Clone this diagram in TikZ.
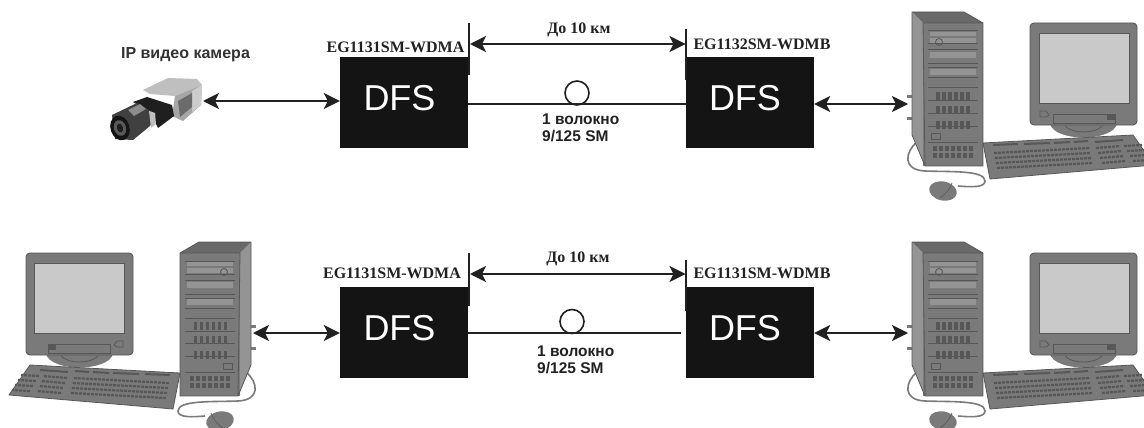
\documentclass[tikz,border=0pt]{standalone}
\usepackage{fontspec}
\setmainfont{Liberation Serif}
\setsansfont{Liberation Sans}
\usetikzlibrary{arrows.meta}
\definecolor{pcbody}{gray}{0.48}
\definecolor{pcdark}{gray}{0.34}
\definecolor{pcside}{gray}{0.58}
\definecolor{pcscreen}{gray}{0.79}
\definecolor{inkblack}{gray}{0.13}
\tikzset{
  dfsbox/.style={fill=black!92,minimum width=128pt,minimum height=91.5pt,inner sep=0pt},
  dfstext/.style={text=white,inner sep=0pt,font=\sffamily\fontsize{36}{36}\selectfont},
  modellabel/.style={font=\bfseries\fontsize{16}{17}\selectfont,text=inkblack,inner sep=0pt},
  distlabel/.style={font=\bfseries\fontsize{16}{17}\selectfont,text=inkblack,inner sep=0pt},
  fibrelabel/.style={font=\sffamily\bfseries\fontsize{15.5}{17.5}\selectfont,text=inkblack,inner sep=0pt,align=left,anchor=west},
  biarrow/.style={draw=inkblack,line width=1.8pt,{Stealth[length=16pt,width=16pt,inset=4pt]}-{Stealth[length=16pt,width=16pt,inset=4pt]}},
  fibre/.style={draw=inkblack,line width=1.7pt},
  tick/.style={draw=inkblack,line width=1.7pt},
  loopc/.style={circle,draw=inkblack,line width=1.6pt,minimum size=24pt,inner sep=0pt},
  slot/.style={draw=pcdark,line width=1pt}
}
\newcommand{\pcunit}{%
  % cable
  \draw[pcbody,line width=1.6pt] (27,142) .. controls (15,152) and (12,170) .. (35,171)
     .. controls (60,172) and (95,170) .. (95,181) .. controls (95,188) and (80,187) .. (68,186);
  % mouse
  \fill[pcbody,rotate around={-12:(53,191)}] (53,191) ellipse (14 and 9.5);
  \draw[pcdark,line width=0.6pt] (50,198) .. controls (58,192) and (60,188) .. (62,183);
  % ports
  \fill[pcbody] (17,95) rectangle (22,98);
  \fill[pcbody] (17,117) rectangle (22,120);
  % tower
  \fill[pcside] (22,12) -- (33,23) -- (35,166) -- (22,135) -- cycle;
  \fill[pcdark!70!pcside] (22,12) -- (74,12) -- (93,23) -- (33,23) -- cycle;
  \fill[pcbody] (33,23) rectangle (93,166);
  \draw[pcdark,line width=0.8pt] (22,12) -- (74,12) -- (93,23) -- (93,166) -- (35,166) -- (22,135) -- cycle (33,23) -- (93,23) (33,23) -- (35,166);
  \foreach \yy in {31,44,50,64,68,78,88,101,113,126,142}{\draw[slot] (38,\yy) -- (88,\yy);}
  \fill[pcside] (40,32) rectangle (86,36);
  \fill[pcside] (40,38) rectangle (86,43);
  \fill[pcside] (40,52) rectangle (86,58);
  \fill[pcside] (40,69) rectangle (86,75);
  \draw[pcdark,line width=0.8pt] (49,42) circle (3.5);
  \foreach \yy in {96,110,125}{\foreach \xx in {46,52,...,80}{\fill[pcdark] (\xx,\yy-4) rectangle (\xx+3.5,\yy+4);}}
  \foreach \xx in {43,49,...,79}{\fill[pcdark] (\xx,146) rectangle (\xx+4,151);\fill[pcdark] (\xx,153) rectangle (\xx+4,158);}
  \draw[pcdark,line width=0.8pt] (41,133) rectangle (50,139);
  % monitor stand
  \fill[pcbody] (160,124) .. controls (165,142) and (222,142) .. (227,124) -- cycle;
  \draw[pcdark,line width=0.8pt] (175,126) .. controls (182,134) and (205,134) .. (212,126);
  % monitor
  \fill[pcbody,rounded corners=4pt] (140,23) rectangle (247,125);
  \draw[pcdark,line width=0.9pt,rounded corners=4pt] (140,23) rectangle (247,125);
  \fill[pcscreen] (149,33) rectangle (239,103);
  \draw[pcdark,line width=0.8pt] (149,33) rectangle (239,103);
  \draw[pcdark,line width=0.8pt] (150,111) -- (156,111) -- (159,115) -- (156,117) -- (150,117) -- cycle;
  \draw[pcdark,line width=0.8pt] (163,114) rectangle (225,123);
  \fill[pcdark] (217,115) rectangle (225,120);
  % keyboard
  \fill[pcbody] (93,143) -- (243,135) -- (264,165) -- (100,179) -- cycle;
  \draw[pcdark,line width=0.8pt] (93,143) -- (243,135) -- (264,165) -- (100,179) -- cycle;
  \foreach \a/\b/\c/\d in {103/145/128/144,134/144/160/143,164/143/180/142,184/142/198/141,205/142/233/140}{\draw[pcdark,line width=2pt] (\a,\b) -- (\c,\d);}
  \foreach \r in {0,1,2,3}{
    \draw[pcdark,line width=2.2pt,dash pattern=on 3pt off 1pt] (104+\r,153+\r*5) -- (200+\r,148+\r*5);
    \draw[pcdark,line width=2.2pt,dash pattern=on 3pt off 1pt] (206+\r*2,148+\r*5) -- (230+\r*2,146+\r*5);
    \draw[pcdark,line width=2.2pt,dash pattern=on 3pt off 1pt] (234+\r*3,146+\r*5) -- (252+\r*3,145+\r*5);
  }
}
\begin{document}
\begin{tikzpicture}[x=1pt,y=-1pt]
\useasboundingbox (0,0) rectangle (1144,428);
\fill[white] (0,0) rectangle (1144,428);

% camera
\begin{scope}[line join=round]
  \fill[gray!50] (143,90) -- (168,78) -- (197,79) -- (202,85) -- (175,96) -- (150,94) -- cycle;
  \fill[gray!70] (175,96) -- (202,85) -- (201,105) -- (183,121) -- (172,116) -- cycle;
  \fill[gray!40] (192,91) -- (202,85) -- (201,105) -- (192,112) -- cycle;
  \fill[black!58] (178,101) -- (192,93) -- (192,107) -- (180,117) -- cycle;
  \fill[black!88] (133,102) -- (147,97) -- (172,105) -- (174,116) -- (158,128) -- (150,112) -- cycle;
  \fill[black!75] (112,115) -- (137,103) -- (156,114) -- (150,126) -- (133,140) -- (115,139) -- cycle;
  \fill[gray!50] (149,111) -- (155,113) -- (156,124) -- (151,128) -- cycle;
  \fill[black!45] (128,110) -- (140,104) -- (146,109) -- (134,116) -- cycle;
  \fill[black!92,rotate around={18:(120,128)}] (120,128) ellipse (9.5 and 12.5);
  \fill[black!65,rotate around={18:(120,128)}] (120,128) ellipse (6 and 8);
  \fill[black!88,rotate around={18:(120,128)}] (120,128) ellipse (3 and 4.5);
\end{scope}
\coordinate (camport) at (203,101);
\node[font=\sffamily\bfseries\fontsize{16}{17}\selectfont,text=black!80,inner sep=0pt] (camlabel) at (185.5,55) {IP видео камера};

% computers
\begin{scope}[shift={(890,0)}]\pcunit\end{scope}
\begin{scope}[shift={(890,230)}]\pcunit\end{scope}
\begin{scope}[shift={(273,230)},xscale=-1]\pcunit\end{scope}
\coordinate (pcportA) at (908,104);
\coordinate (pcportB) at (908,333);
\coordinate (pcportC) at (253,333);

% top row
\node[dfsbox] (dfsA) at (404,102.5) {};
\node[dfstext] (txtA) at (399.5,98) {DFS};
\node[dfsbox] (dfsB) at (750,102.5) {};
\node[dfstext] (txtB) at (745,98) {DFS};
\node[modellabel] (modA) at (395.5,47) {EG1131SM-WDMA};
\node[modellabel] (modB) at (762,44) {EG1132SM-WDMB};
\node[distlabel] (distA) at (579,30) {До 10 км};
\coordinate (tickAt) at (469,23); \coordinate (tickAb) at (469,75);
\coordinate (tickBt) at (686,29); \coordinate (tickBb) at (686,80);
\coordinate (dimA) at (470,44); \coordinate (dimB) at (685.5,44);
\draw[tick] (tickAt) -- (tickAb);
\draw[tick] (tickBt) -- (tickBb);
\draw[biarrow] (dimA) -- (dimB);
\coordinate (fibA0) at (468,104);
\draw[fibre] (fibA0) -- (fibA0 -| dfsB.west);
\node[loopc] (loopA) at (577,93) {};
\node[fibrelabel] (fibA) at (542,128) {1 волокно\\9/125 SM};
\draw[biarrow] (camport) -- (camport -| dfsA.west);
\draw[biarrow] (pcportA -| dfsB.east) -- (pcportA);

% bottom row
\node[dfsbox] (dfsC) at (404,332.5) {};
\node[dfstext] (txtC) at (399.5,328) {DFS};
\node[dfsbox] (dfsD) at (750,332.5) {};
\node[dfstext] (txtD) at (745,328) {DFS};
\node[modellabel] (modC) at (392,273) {EG1131SM-WDMA};
\node[modellabel] (modD) at (762,273) {EG1131SM-WDMB};
\node[distlabel] (distB) at (578,259) {До 10 км};
\coordinate (tickCt) at (469,253); \coordinate (tickCb) at (469,306);
\coordinate (tickDt) at (686,260); \coordinate (tickDb) at (686,311);
\coordinate (dimC) at (470,274); \coordinate (dimD) at (685.5,274);
\coordinate (fibC0) at (468,333);
\coordinate (fibEnd) at (681,333);
\draw[tick] (tickCt) -- (tickCb);
\draw[tick] (tickDt) -- (tickDb);
\draw[biarrow] (dimC) -- (dimD);
\draw[fibre] (fibC0) -- (fibEnd);
\node[loopc] (loopB) at (572,321.5) {};
\node[fibrelabel] (fibB) at (537,360) {1 волокно\\9/125 SM};
\draw[biarrow] (pcportC) -- (pcportC -| dfsC.west);
\draw[biarrow] (pcportB -| dfsD.east) -- (pcportB);
\end{tikzpicture}
\end{document}
